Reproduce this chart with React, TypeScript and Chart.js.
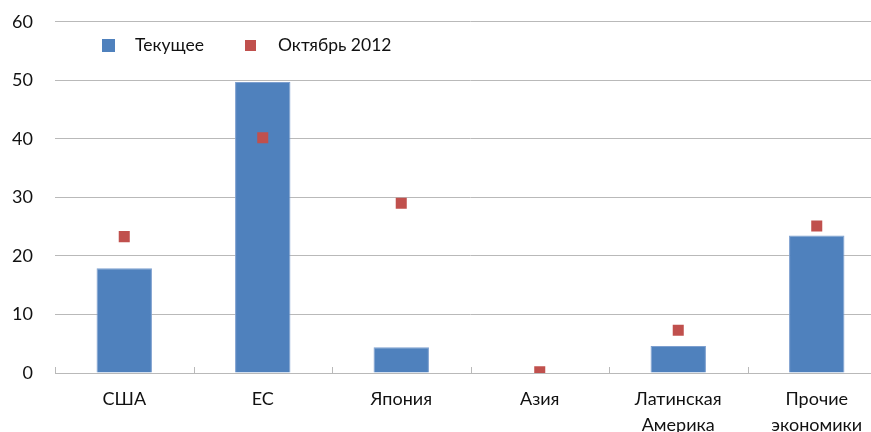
import React, { useEffect, useRef } from "react";
import { Chart, registerables } from "chart.js";

Chart.register(...registerables);

const categories: string[][] = [["США"], ["ЕС"], ["Япония"], ["Азия"], ["Латинская", "Америка"], ["Прочие", "экономики"]];
const currentValues: number[] = [17.9, 49.7, 4.4, 0.1, 4.6, 23.5];
const october2012Values: number[] = [23.3, 40.2, 29.0, 0.2, 7.3, 25.1];
const yTickValues: number[] = [0, 10, 20, 30, 40, 50, 60];
const seriesNames: string[] = ["Текущее", "Октябрь 2012"];

const BLUE = "#4f81bd";
const RED = "#c0504d";
const GRID = "#b9b9b9";
const FONT = "Lato, 'Open Sans', sans-serif";

const categoryTicks = {
  id: "categoryTicks",
  afterDatasetsDraw(chart: any) {
    const x = chart.scales.x;
    const n = chart.data.labels.length;
    const ctx = chart.ctx;
    ctx.save();
    ctx.strokeStyle = GRID;
    ctx.lineWidth = 1;
    const step = (x.right - x.left) / n;
    for (let i = 0; i <= n; i++) {
      const px = Math.round(x.left + i * step) + 0.5;
      ctx.beginPath();
      ctx.moveTo(px, x.top - 6);
      ctx.lineTo(px, x.top);
      ctx.stroke();
    }
    ctx.restore();
  },
};

export default function App() {
  const ref = useRef<HTMLCanvasElement | null>(null);
  useEffect(() => {
    if (!ref.current) return;
    const chart = new Chart(ref.current, {
      type: "bar",
      data: {
        labels: categories,
        datasets: [
          {
            type: "line",
            label: seriesNames[1],
            data: october2012Values,
            showLine: false,
            pointStyle: "rect",
            pointRadius: 7.8,
            pointBackgroundColor: RED,
            pointBorderWidth: 0,
            borderColor: RED,
            backgroundColor: RED,
            order: 0,
          } as any,
          {
            type: "bar",
            label: seriesNames[0],
            data: currentValues,
            backgroundColor: BLUE,
            borderColor: "#7d9fcf",
            borderWidth: 1,
            categoryPercentage: 1,
            barPercentage: 0.4,
            order: 1,
          },
        ],
      },
      options: {
        responsive: false,
        animation: false,
        devicePixelRatio: 1,
        layout: { padding: { top: 3, right: 14, left: 0, bottom: 0 } },
        plugins: { legend: { display: false }, tooltip: { enabled: false }, title: { display: false } },
        scales: {
          x: {
            offset: true,
            grid: { display: false },
            border: { display: true, color: GRID, width: 1 },
            ticks: { color: "#111", font: { family: FONT, size: 18, lineHeight: 1.4 }, padding: 6, maxRotation: 0, autoSkip: false },
            afterFit(scale: any) {
              scale.height = 59;
            },
          },
          y: {
            min: 0,
            max: 60,
            afterBuildTicks(scale: any) {
              scale.ticks = yTickValues.map((v) => ({ value: v }));
            },
            grid: { color: GRID, drawTicks: false, lineWidth: 1 },
            border: { display: false },
            ticks: { color: "#111", font: { family: FONT, size: 18 }, padding: 22 },
            afterFit(scale: any) {
              scale.width = 55;
            },
          },
        },
      },
      plugins: [categoryTicks],
    });
    return () => chart.destroy();
  }, []);

  const legendText: React.CSSProperties = {
    position: "absolute",
    fontFamily: FONT,
    fontSize: 17.5,
    color: "#111",
    lineHeight: "20px",
    whiteSpace: "nowrap",
  };

  return (
    <div style={{ position: "fixed", left: 0, top: 0, width: 871, height: 432, overflow: "hidden", background: "#fff" }}>
      <canvas ref={ref} width={900} height={443} style={{ display: "block", position: "absolute", left: 0, top: -11, width: 900, height: 443 }} />
      <div style={{ position: "absolute", left: 102, top: 39, width: 13, height: 13, background: BLUE }} />
      <div style={{ ...legendText, left: 135, top: 35 }}>{seriesNames[0]}</div>
      <div style={{ position: "absolute", left: 245, top: 40, width: 11, height: 11, background: RED }} />
      <div style={{ ...legendText, left: 278, top: 35 }}>{seriesNames[1]}</div>
    </div>
  );
}
